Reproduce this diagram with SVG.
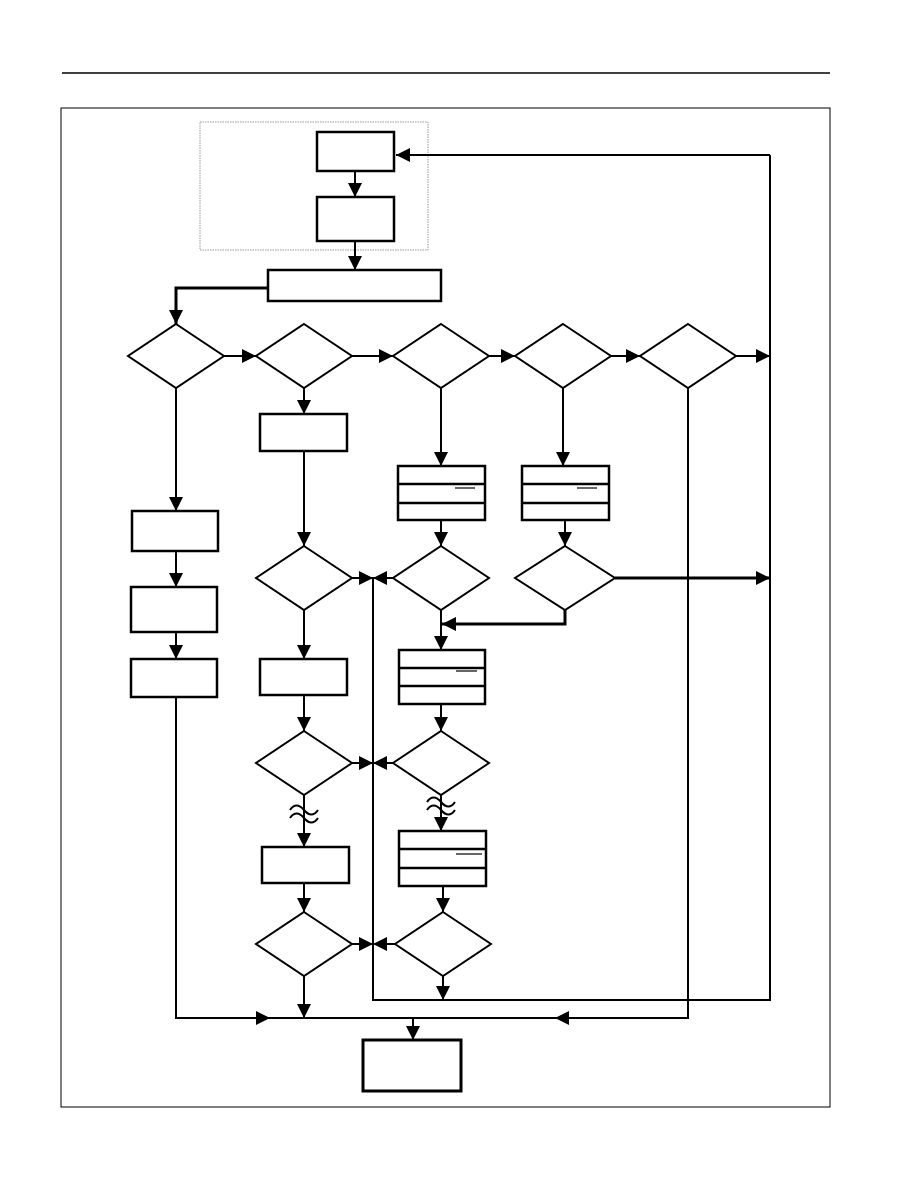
<svg xmlns="http://www.w3.org/2000/svg" width="918" height="1188" viewBox="0 0 918 1188">
<style>
.n{fill:#fff;stroke:#000;stroke-width:2.5}
.d{fill:#fff;stroke:#000;stroke-width:2}
.sep{stroke:#000;stroke-width:2.5;fill:none}
.tk{stroke:#000;stroke-width:1.2;fill:none}
.c{stroke:#000;stroke-width:2;fill:none}
.ca{stroke:#000;stroke-width:2;fill:none;marker-end:url(#a)}
.cb{stroke:#000;stroke-width:3;fill:none}
.cba{stroke:#000;stroke-width:3;fill:none;marker-end:url(#a)}
.w{stroke:#000;stroke-width:2;fill:none}
</style>
<defs>
<marker id="a" markerUnits="userSpaceOnUse" markerWidth="14" markerHeight="14" refX="14" refY="7" orient="auto">
<path d="M0,0 L14,7 L0,14 z" fill="#000"/>
</marker>
</defs>
<rect width="918" height="1188" fill="#fff"/>
<line x1="62" y1="73" x2="830" y2="73" stroke="#000" stroke-width="1.5"/>
<rect x="61" y="108" width="769" height="999" fill="none" stroke="#000" stroke-width="1"/>
<rect id="group-box" x="200" y="122" width="228" height="128" fill="none" stroke="#999" stroke-width="1" stroke-dasharray="1.5,1"/>

<g id="connectors">
<path class="ca" d="M355,171 V197"/>
<path class="ca" d="M355,241 V270"/>
<path class="cba" d="M268,288 H176 V324"/>
<path class="c" d="M373,578 V1000 H770 V155"/>
<path class="ca" d="M770,155 H396"/>
<path class="ca" d="M224,356 H256"/>
<path class="ca" d="M352,356 H393"/>
<path class="ca" d="M489,356 H515"/>
<path class="ca" d="M611,356 H640"/>
<path class="ca" d="M736,356 H770"/>
<path class="ca" d="M176,388 V511"/>
<path class="ca" d="M176,551 V587"/>
<path class="ca" d="M176,632 V659"/>
<path class="ca" d="M176,697 V1018 H270"/>
<path class="c" d="M270,1018 H555"/>
<path class="ca" d="M688,388 V1018 H555"/>
<path class="ca" d="M413,1018 V1040"/>
<path class="ca" d="M304,388 V414"/>
<path class="ca" d="M304,451 V546"/>
<path class="ca" d="M352,578 H373"/>
<path class="ca" d="M304,610 V659"/>
<path class="ca" d="M304,695 V731"/>
<path class="ca" d="M352,763 H373"/>
<path class="ca" d="M304,795 V847"/>
<path class="ca" d="M304,883 V912"/>
<path class="ca" d="M352,944 H373"/>
<path class="ca" d="M304,976 V1018"/>
<path class="ca" d="M441,388 V466"/>
<path class="ca" d="M441,520 V546"/>
<path class="ca" d="M393,578 H373"/>
<path class="ca" d="M441,610 V650"/>
<path class="ca" d="M563,388 V466"/>
<path class="ca" d="M565,520 V546"/>
<path class="cba" d="M615,578 H770"/>
<path class="cba" d="M565,610 V624 H442"/>
<path class="ca" d="M441,704 V731"/>
<path class="ca" d="M393,763 H373"/>
<path class="ca" d="M441,795 V831"/>
<path class="ca" d="M443,886 V912"/>
<path class="ca" d="M395,944 H373"/>
<path class="ca" d="M443,976 V1000"/>
<path class="w" d="M290,810 c4,-6 9,-6 14,0 s10,6 14,0"/>
<path class="w" d="M290,818 c4,-6 9,-6 14,0 s10,6 14,0"/>
<path class="w" d="M427,802 c4,-6 9,-6 14,0 s10,6 14,0"/>
<path class="w" d="M427,810 c4,-6 9,-6 14,0 s10,6 14,0"/>
</g>

<g id="box1"><rect class="n" x="317" y="132" width="77" height="39"/></g>
<g id="box2"><rect class="n" x="317" y="197" width="77" height="44"/></g>
<g id="wide-box"><rect class="n" x="268" y="270" width="173" height="31"/></g>

<g id="d1"><polygon class="d" points="176,324 224,356 176,388 128,356"/></g>
<g id="d2"><polygon class="d" points="304,324 352,356 304,388 256,356"/></g>
<g id="d3"><polygon class="d" points="441,324 489,356 441,388 393,356"/></g>
<g id="d4"><polygon class="d" points="563,324 611,356 563,388 515,356"/></g>
<g id="d5"><polygon class="d" points="688,324 736,356 688,388 640,356"/></g>

<g id="l1"><rect class="n" x="132" y="511" width="86" height="40"/></g>
<g id="l2"><rect class="n" x="131" y="587" width="86" height="45"/></g>
<g id="l3"><rect class="n" x="131" y="659" width="86" height="38"/></g>

<g id="b2a"><rect class="n" x="260" y="414" width="87" height="37"/></g>
<g id="d2b"><polygon class="d" points="304,546 352,578 304,610 256,578"/></g>
<g id="b2b"><rect class="n" x="260" y="659" width="87" height="36"/></g>
<g id="d2c"><polygon class="d" points="304,731 352,763 304,795 256,763"/></g>
<g id="b2c"><rect class="n" x="262" y="847" width="87" height="36"/></g>
<g id="d2d"><polygon class="d" points="304,912 352,944 304,976 256,944"/></g>

<g id="c1"><rect class="n" x="398" y="466" width="87" height="54"/><line class="sep" x1="398" y1="484" x2="485" y2="484"/><line class="sep" x1="398" y1="503" x2="485" y2="503"/><line class="tk" x1="455" y1="488" x2="475" y2="488"/></g>
<g id="d3b"><polygon class="d" points="441,546 489,578 441,610 393,578"/></g>
<g id="c2"><rect class="n" x="399" y="650" width="86" height="54"/><line class="sep" x1="399" y1="668" x2="485" y2="668"/><line class="sep" x1="399" y1="686" x2="485" y2="686"/><line class="tk" x1="456" y1="671" x2="477" y2="671"/></g>
<g id="d3c"><polygon class="d" points="441,731 489,763 441,795 393,763"/></g>
<g id="c3"><rect class="n" x="399" y="831" width="87" height="55" stroke-width="3"/><line class="sep" x1="399" y1="849" x2="486" y2="849" stroke-width="3"/><line class="sep" x1="399" y1="868" x2="486" y2="868" stroke-width="3"/><line class="tk" x1="456" y1="854" x2="482" y2="854"/></g>
<g id="d3d"><polygon class="d" points="443,912 491,944 443,976 395,944"/></g>

<g id="e1"><rect class="n" x="522" y="466" width="87" height="54"/><line class="sep" x1="522" y1="484" x2="609" y2="484"/><line class="sep" x1="522" y1="503" x2="609" y2="503"/><line class="tk" x1="577" y1="488" x2="597" y2="488"/></g>
<g id="d4b"><polygon class="d" points="565,546 615,578 565,610 515,578"/></g>

<g id="end-box"><rect x="363" y="1040" width="98" height="51" fill="#fff" stroke="#000" stroke-width="3"/></g>
</svg>
